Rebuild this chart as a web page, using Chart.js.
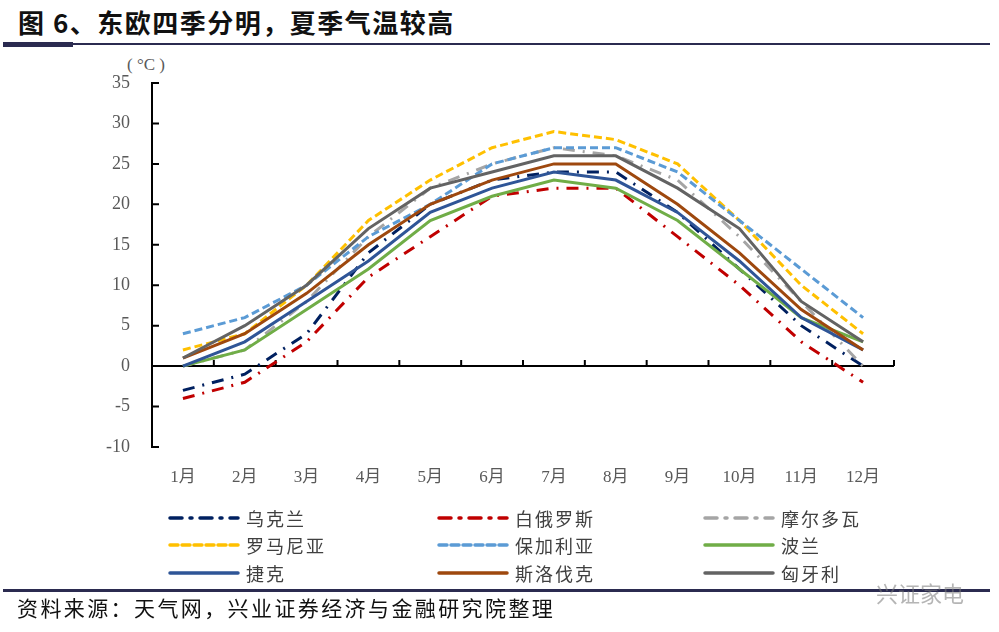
<!DOCTYPE html>
<html>
<head>
<meta charset="utf-8">
<script src="https://cdn.jsdelivr.net/npm/chart.js@4.4.0/dist/chart.umd.min.js"></script>
<style>
  body { margin: 0; width: 999px; height: 632px; background: #fff; position: relative; overflow: hidden;
         font-family: "Noto Sans CJK SC", sans-serif; }
  #chart { position: absolute; left: 0; top: 0; }
  #title { position: absolute; left: 18px; top: 3px; font-size: 26px; font-weight: bold; letter-spacing: 1.5px; color: #111; }
  .rule { position: absolute; background: #2b2b50; }
  #unit { position: absolute; left: 127px; top: 55px; font-family: "Liberation Serif", serif; font-size: 17px; color: #595959; }
  .leg { position: absolute; font-size: 18px; letter-spacing: 2px; color: #404040; line-height: 20px; }
  .leg svg { position: absolute; top: 7px; }
  #source { position: absolute; left: 17px; top: 592px; font-size: 21px; letter-spacing: 2.4px; color: #111; }
  #mark { position: absolute; left: 876px; top: 576px; font-size: 22px; color: rgba(120,120,120,0.55); }
</style>
</head>
<body>
<div id="title">图 6、东欧四季分明，夏季气温较高</div>
<div class="rule" style="left:3px;top:43px;width:987px;height:2px"></div>
<div class="rule" style="left:3px;top:42px;width:70px;height:5px"></div>
<div id="unit">( °C )</div>
<canvas id="chart" width="999" height="632"></canvas>
<div id="legend"></div>
<div class="rule" style="left:3px;top:589px;width:987px;height:3px"></div>
<div id="source">资料来源：天气网，兴业证券经济与金融研究院整理</div>
<div id="mark">兴证家电</div>
<script>
var months = ['1月', '2月', '3月', '4月', '5月', '6月', '7月', '8月', '9月', '10月', '11月', '12月'];
var yTicks = [-10, 35, 5];

var ukraine  = [-3, -1, 4, 14, 20, 23, 24, 24, 19, 12, 5, 0];
var belarus  = [-4, -2, 3, 11, 16, 21, 22, 22, 16, 10, 3, -2];
var moldova  = [0, 2, 8, 16, 22, 25, 27, 26, 23, 16, 8, 0];
var romania  = [2, 4, 10, 18, 23, 27, 29, 28, 25, 18, 10, 4];
var bulgaria = [4, 6, 10, 16, 20, 25, 27, 27, 24, 18, 12, 6];
var poland   = [0, 2, 7, 12, 18, 21, 23, 22, 18, 12, 6, 3];
var czech    = [0, 3, 8, 13, 19, 22, 24, 23, 19, 13, 6, 2];
var slovakia = [1, 4, 9, 15, 20, 23, 25, 25, 20, 14, 7, 2];
var hungary  = [1, 5, 10, 17, 22, 24, 26, 26, 22, 17, 8, 3];

var dashDot = [12, 8, 2, 8];
var dashed = [8, 4];

var series = [
  { label: '乌克兰', data: ukraine, color: '#002060', dash: dashDot },
  { label: '白俄罗斯', data: belarus, color: '#c00000', dash: dashDot },
  { label: '摩尔多瓦', data: moldova, color: '#a5a5a5', dash: dashDot },
  { label: '罗马尼亚', data: romania, color: '#ffc000', dash: dashed },
  { label: '保加利亚', data: bulgaria, color: '#5b9bd5', dash: dashed },
  { label: '波兰', data: poland, color: '#70ad47', dash: [] },
  { label: '捷克', data: czech, color: '#2f5597', dash: [] },
  { label: '斯洛伐克', data: slovakia, color: '#9e480e', dash: [] },
  { label: '匈牙利', data: hungary, color: '#636363', dash: [] }
];

// legend: 3 columns, 3 rows
var legCols = [168, 437, 703];
var legRows = [508, 535, 563];
var legend = document.getElementById('legend');
series.forEach(function (s, i) {
  var d = document.createElement('div');
  d.className = 'leg';
  d.style.left = legCols[i % 3] + 'px';
  d.style.top = legRows[Math.floor(i / 3)] + 'px';
  d.style.paddingLeft = '78px';
  d.innerHTML = '<svg width="72" height="6" style="left:0"><line x1="2" y1="3" x2="70" y2="3" stroke="' + s.color +
    '" stroke-width="3.5" stroke-linecap="round" stroke-dasharray="' + (s.dash.length ? s.dash.join(',') : 'none') + '"/></svg>' + s.label;
  legend.appendChild(d);
});

var axisMarks = {
  id: 'axisMarks',
  beforeDatasetsDraw: function (chart) {
    var ctx = chart.ctx, xs = chart.scales.x, ys = chart.scales.y, area = chart.chartArea;
    ctx.save();
    ctx.strokeStyle = '#000';
    ctx.lineWidth = 2;
    ctx.beginPath();
    ys.ticks.forEach(function (t) {
      var y = ys.getPixelForValue(t.value);
      ctx.moveTo(area.left, y);
      ctx.lineTo(area.left + 7, y);
    });
    var y0 = ys.getPixelForValue(0);
    var step = xs.getPixelForValue(1) - xs.getPixelForValue(0);
    for (var i = 0; i <= months.length; i++) {
      var x = xs.getPixelForValue(0) - step / 2 + i * step;
      ctx.moveTo(x, y0);
      ctx.lineTo(x, y0 - 6);
    }
    ctx.stroke();
    ctx.restore();
  }
};

new Chart(document.getElementById('chart').getContext('2d'), {
  type: 'line',
  data: {
    labels: months,
    datasets: series.map(function (s, i) {
      return {
        label: s.label,
        data: s.data,
        borderColor: s.color,
        backgroundColor: s.color,
        borderDash: s.dash,
        borderWidth: 3,
        pointRadius: 0,
        tension: 0,
        fill: false,
        order: series.length - i
      };
    })
  },
  options: {
    responsive: false,
    animation: false,
    layout: { padding: { left: 102, top: 83, right: 105, bottom: 145 } },
    plugins: { legend: { display: false }, tooltip: { enabled: false } },
    scales: {
      x: {
        offset: true,
        border: { display: false },
        grid: { display: false },
        ticks: { color: '#595959', padding: 12, font: { family: "'Liberation Serif', 'Noto Sans CJK SC'", size: 17 } },
        afterFit: function (s) { s.height = 40; }
      },
      y: {
        min: yTicks[0],
        max: yTicks[1],
        ticks: { stepSize: yTicks[2], color: '#595959', padding: 22, font: { family: "'Liberation Serif', serif", size: 18 } },
        border: { display: true, color: '#000', width: 2 },
        grid: {
          drawTicks: false,
          lineWidth: 2,
          color: function (c) { return c.tick && c.tick.value === 0 ? '#000' : 'rgba(0,0,0,0)'; }
        },
        afterFit: function (s) { s.width = 50; }
      }
    }
  },
  plugins: [axisMarks]
});
</script>
</body>
</html>
